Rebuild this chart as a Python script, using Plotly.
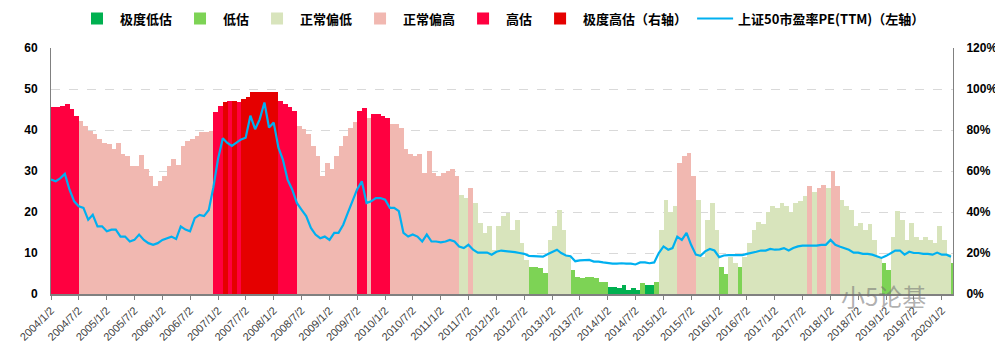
import plotly.graph_objects as go

# Monthly readings, first value = 2004/1/2
pe = [27.9, 27.5, 28.2, 29.3, 25.5, 22.6, 21.4, 21.0, 18.1, 19.3, 16.5, 16.5,
      15.3, 15.7, 15.7, 14.0, 14.0, 12.8, 13.2, 14.5, 13.2, 12.4, 12.0, 12.4,
      13.2, 13.7, 14.0, 13.4, 16.5, 15.7, 15.3, 18.5, 19.3, 19.0, 20.5, 26.0,
      33.0, 38.0, 36.9, 36.1, 36.9, 37.7, 38.1, 43.5, 40.2, 42.6, 46.7, 40.6,
      41.8, 35.7, 32.8, 27.9, 25.5, 22.2, 20.6, 19.0, 16.1, 14.5, 13.6, 14.0,
      13.2, 14.9, 14.9, 16.9, 19.8, 22.5, 25.5, 27.5, 22.2, 22.6, 23.4, 23.4,
      23.0, 21.0, 21.0, 20.2, 14.9, 14.0, 14.5, 14.0, 12.8, 14.5, 12.8, 12.8,
      12.6, 12.8, 13.2, 12.8, 11.6, 11.2, 12.0, 10.8, 10.1, 10.1, 10.1, 9.6,
      10.3, 10.6, 10.5, 10.4, 10.2, 10.0, 9.8, 9.3, 9.2, 9.2, 9.1, 9.7,
      10.3, 10.8, 10.0, 9.4, 9.2, 8.0, 8.2, 8.2, 8.3, 7.9, 7.9, 7.7,
      7.5, 7.4, 7.4, 7.5, 7.4, 7.4, 7.2, 7.7, 7.7, 7.5, 7.7, 10.0,
      11.6, 10.8, 11.2, 14.0, 13.2, 14.9, 12.0, 9.6, 9.3, 10.4, 11.0, 10.6,
      9.0, 9.4, 9.5, 9.5, 9.4, 9.5, 9.8, 10.0, 10.3, 10.6, 10.6, 11.0,
      10.8, 10.9, 11.2, 10.6, 11.2, 11.6, 11.8, 11.8, 11.8, 11.8, 12.0, 12.0,
      13.2, 12.0, 11.6, 11.2, 10.8, 10.1, 10.1, 9.8, 9.8, 9.6, 9.2, 8.8,
      9.3, 9.9, 10.6, 10.6, 9.6, 10.3, 10.0, 10.0, 9.8, 9.8, 9.6, 10.1,
      9.6, 9.6, 9.1]

pct = [91.0, 91.0, 91.8, 92.6, 90.2, 86.9, 84.5, 82.0, 79.6, 77.9, 75.5, 73.9,
       73.0, 70.6, 73.9, 68.1, 67.3, 62.4, 62.4, 68.0, 60.8, 57.5, 52.6, 55.0,
       57.5, 62.4, 65.7, 63.0, 72.2, 74.7, 75.5, 77.1, 78.8, 78.8, 79.5, 88.6,
       91.7, 93.5, 94.3, 94.3, 93.5, 95.0, 95.9, 98.4, 98.4, 98.7, 98.7, 98.7,
       98.4, 94.3, 92.6, 91.0, 89.4, 82.0, 80.4, 77.9, 72.2, 67.3, 57.5, 64.0,
       60.8, 67.3, 72.2, 77.0, 81.2, 84.0, 89.4, 90.6, 86.1, 87.7, 87.7, 86.9,
       86.0, 82.8, 82.8, 81.2, 70.6, 68.1, 67.3, 68.1, 59.2, 69.7, 59.0, 57.5,
       59.0, 60.0, 60.8, 57.5, 48.5, 46.9, 51.8, 44.4, 34.6, 29.7, 33.0, 21.6,
       33.0, 38.0, 39.5, 31.4, 36.0, 24.8, 16.7, 13.4, 13.4, 12.5, 10.1, 26.5,
       33.0, 41.2, 31.4, 18.3, 11.8, 8.5, 7.8, 8.5, 8.5, 7.8, 6.0, 6.0,
       3.6, 3.6, 2.8, 4.4, 2.0, 2.8, 2.0, 5.2, 4.4, 4.4, 6.0, 31.0,
       46.0, 40.0, 43.0, 64.0, 67.3, 69.0, 57.5, 46.0, 18.0, 36.0, 44.4, 31.4,
       13.4, 10.0, 18.0, 15.0, 13.4, 18.0, 25.0, 31.0, 35.0, 34.0, 40.0, 43.0,
       42.0, 44.4, 43.0, 40.0, 44.4, 45.6, 48.0, 52.6, 50.0, 51.8, 53.4, 51.8,
       60.0, 52.6, 46.0, 42.8, 41.0, 33.0, 34.6, 31.4, 34.0, 26.5, 18.0, 15.0,
       11.8, 28.0, 40.4, 36.0, 26.5, 34.6, 28.0, 26.5, 28.0, 26.5, 25.0, 33.0,
       26.5, 19.7, 15.0]

# A=极度低估 B=低估 C=正常偏低 D=正常偏高 E=高估 F=极度高估
cat = list(
    "EEEEEEDDDDDD"
    "DDDDDDDDDDDD"
    "DDDDDDDDDDDE"
    "EFEFEFFFFFFF"
    "FEEEEDDDDDDD"
    "DDDDDDEEDEEE"
    "EDDDDDDDDDDD"
    "DDDDCCDCCCCC"
    "CCCCCCCBBBBC"
    "CCCCBBBBBBBB"
    "AAAAAAABAABC"
    "CCCDDDDCCCCC"
    "BBCCBCCCCCCC"
    "CCCCCCCDCDDC"
    "DDCCCCCCCCCB"
    "BCCCCCCCCCCC"
    "CCB")

categories = ["极度低估", "低估", "正常偏低", "正常偏高", "高估", "极度高估（右轴）"]
codes = ["A", "B", "C", "D", "E", "F"]
colors = ["#00B050", "#7DD355", "#D8E4BC", "#F1B8B1", "#FF0040", "#E50000"]
line_name = "上证50市盈率PE(TTM)（左轴）"
line_color = "#00B0F0"

dates = [f"{2004 + m // 12}-{m % 12 + 1:02d}-02" for m in range(len(pe))]
month_ms = 31 * 24 * 3600 * 1000

fig = go.Figure()
for code, name, col in zip(codes, categories, colors):
    ys = [p / 100 if c == code else None for p, c in zip(pct, cat)]
    fig.add_trace(go.Bar(
        x=dates, y=ys, name=name, width=month_ms, offset=0,
        marker=dict(color=col, line=dict(width=0)),
        yaxis="y", hoverinfo="skip"))

fig.add_trace(go.Scatter(
    x=dates, y=pe, name=line_name, mode="lines",
    line=dict(color=line_color, width=2.2), yaxis="y2"))

tick_font = dict(family="Liberation Sans", size=12, color="#000000", weight="bold")

# page body has an 8px margin, so the figure is sized 995x351
fig.update_layout(
    width=995, height=351,
    margin=dict(l=43, r=50, t=40, b=65, autoexpand=False),
    paper_bgcolor="white", plot_bgcolor="white",
    barmode="overlay", bargap=0,
    showlegend=True,
    legend=dict(orientation="h", x=0.5, xanchor="center",
                yref="container", y=0.97, yanchor="middle",
                font=dict(family="Noto Sans CJK SC", size=13, color="#000000", weight="bold"),
                itemwidth=36, tracegroupgap=0, bgcolor="rgba(0,0,0,0)"),
    xaxis=dict(type="date", range=["2004-01-02", "2020-03-15"],
               tick0="2004-01-02", dtick="M6", tickformat="%Y/%-m/%-d",
               tickangle=-45, ticks="outside", ticklen=4, tickcolor="#808080",
               tickfont=dict(family="Liberation Sans", size=11, color="#404040"),
               showline=True, linecolor="#808080", linewidth=1.5,
               showgrid=False, zeroline=False, automargin=False),
    yaxis=dict(side="right", range=[0, 1.2], dtick=0.2, tickformat=".0%",
               showgrid=True, gridcolor="#D9D9D9", griddash="dash", gridwidth=1,
               showline=True, linecolor="#808080", linewidth=1,
               zeroline=False, tickfont=tick_font, ticks="", ticklabelstandoff=10,
               automargin=False),
    yaxis2=dict(side="left", overlaying="y", range=[0, 60], dtick=10,
                showgrid=False, showline=True, linecolor="#808080", linewidth=1,
                zeroline=False, tickfont=tick_font, ticks="", ticklabelstandoff=10,
                automargin=False),
    annotations=[dict(text="小5论基", xref="paper", yref="paper", x=0.972, y=-0.085,
                      showarrow=False,
                      font=dict(family="Noto Sans CJK SC", size=24,
                                color="rgba(110,110,110,0.55)"))],
)

fig.write_html("out.html")
